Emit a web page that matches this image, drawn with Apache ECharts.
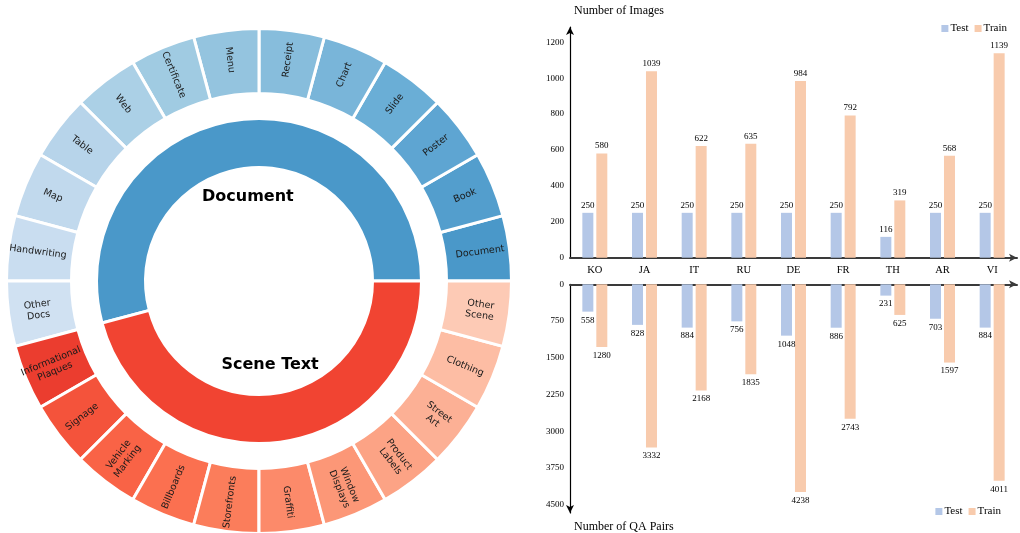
<!DOCTYPE html>
<html><head><meta charset="utf-8">
<script src="https://cdn.jsdelivr.net/npm/echarts@6/dist/echarts.min.js"></script>
<style>html,body{margin:0;padding:0;background:#fff}#c{width:1020px;height:533px}</style>
</head><body><div id="c"></div>
<script>
// ---- Sunburst (two rings) data ----
const groupNames = ['Document', 'Scene Text'];
const docSubcats = ['Document','Book','Poster','Slide','Chart','Receipt','Menu','Certificate','Web','Table','Map','Handwriting','Other\nDocs'];
const sceneSubcats = ['Informational\nPlaques','Signage','Vehicle\nMarking','Billboards','Storefronts','Graffiti','Window\nDisplays','Product\nLabels','Street\nArt','Clothing','Other\nScene'];
const docSubValues = [1,1,1,1,1,1,1,1,1,1,1,1,1];
const sceneSubValues = [1,1,1,1,1,1,1,1,1,1,1];
const groupColors = ['#4a98c9', '#f14432'];
const docColors = ['#4a98c9','#539ecd','#5ea5d2','#6aaed6','#79b5d9','#87bddc','#94c4df','#a0cbe2','#abd0e6','#b7d4ea','#c1d9ed','#c9ddf0','#d0e1f2'];
const sceneColors = ['#eb3d2f','#f4533b','#f96346','#fb7050','#fb7d5b','#fc8a6a','#fc9777','#fca385','#fcb095','#fdbda4','#fdcab5'];

// ---- Bar chart data ----
const languages = ['KO','JA','IT','RU','DE','FR','TH','AR','VI'];
const imagesTest = [250,250,250,250,250,250,116,250,250];
const imagesTrain = [580,1039,622,635,984,792,319,568,1139];
const qaTest = [558,828,884,756,1048,886,231,703,884];
const qaTrain = [1280,3332,2168,1835,4238,2743,625,1597,4011];
const imageTicks = [0,200,400,600,800,1000,1200];
const qaTicks = [0,750,1500,2250,3000,3750,4500];

const testColor = '#b4c7e7';
const trainColor = '#f8cbad';
const serif = 'Liberation Serif, Times New Roman, serif';
const sans = 'DejaVu Sans, sans-serif';

const groupValues = [docSubValues.reduce((a,b)=>a+b,0), sceneSubValues.reduce((a,b)=>a+b,0)];
const subNames = docSubcats.concat(sceneSubcats);
const subValues = docSubValues.concat(sceneSubValues);
const subColors = docColors.concat(sceneColors);

const pieCommon = {
  type: 'pie', center: [259, 281], startAngle: 0, clockwise: false,
  avoidLabelOverlap: false, silent: true, animation: false,
  labelLine: { show: false }, emphasis: { disabled: true }
};

const chart = echarts.init(document.getElementById('c'), null, { renderer: 'canvas' });
const imgInterval = imageTicks[1] - imageTicks[0];
const qaInterval = qaTicks[1] - qaTicks[0];
const imgMax = imageTicks[imageTicks.length-1];
const qaMax = qaTicks[qaTicks.length-1];

chart.setOption({
  animation: false,
  legend: [
    { data: ['Test','Train'], right: 8, top: 18, itemWidth: 7, itemHeight: 7, itemGap: 6,
      icon: 'rect', textStyle: { fontFamily: serif, fontSize: 11, color: '#000', padding: [0,0,0,-3] } },
    { data: ['Test','Train'], right: 14, top: 501, itemWidth: 7, itemHeight: 7, itemGap: 6,
      icon: 'rect', textStyle: { fontFamily: serif, fontSize: 11, color: '#000', padding: [0,0,0,-3] } }
  ],
  grid: [
    { left: 570, top: 27, width: 447, height: 230.7 },
    { left: 570, top: 284.3, width: 447, height: 231.7 }
  ],
  xAxis: [
    { type: 'category', gridIndex: 0, data: languages,
      axisLine: { lineStyle: { color: '#3a3a3a', width: 2 }, symbol: ['none','arrow'], symbolSize: [6, 8] },
      axisTick: { show: false },
      axisLabel: { fontFamily: serif, fontSize: 10.5, color: '#000', margin: 7 } },
    { type: 'category', gridIndex: 1, data: languages, position: 'top',
      axisLine: { lineStyle: { color: '#3a3a3a', width: 2 }, symbol: ['none','arrow'], symbolSize: [6, 8] },
      axisTick: { show: false }, axisLabel: { show: false } }
  ],
  yAxis: [
    { type: 'value', gridIndex: 0, min: 0, max: 1285, interval: imgInterval,
      name: 'Number of Images', nameLocation: 'end', nameGap: 10,
      nameTextStyle: { fontFamily: serif, fontSize: 12, color: '#000', align: 'left', padding: [0,0,0,4] },
      axisLine: { show: true, lineStyle: { color: '#000', width: 1.2 }, symbol: ['none','arrow'], symbolSize: [6, 8] },
      axisTick: { show: false }, splitLine: { show: false },
      axisLabel: { fontFamily: serif, fontSize: 9, color: '#000', margin: 6, showMaxLabel: false,
        formatter: v => (v <= imgMax ? String(v) : '') } },
    { type: 'value', gridIndex: 1, min: 0, max: 4667, interval: qaInterval, inverse: true,
      name: 'Number of QA Pairs', nameLocation: 'end', nameGap: 8,
      nameTextStyle: { fontFamily: serif, fontSize: 12, color: '#000', align: 'left', padding: [0,0,0,4] },
      axisLine: { show: true, lineStyle: { color: '#000', width: 1.2 }, symbol: ['arrow','none'], symbolSize: [6, 8] },
      axisTick: { show: false }, splitLine: { show: false },
      axisLabel: { fontFamily: serif, fontSize: 9, color: '#000', margin: 6, showMaxLabel: false,
        formatter: v => (v <= qaMax ? String(v) : '') } }
  ],
  series: [
    Object.assign({}, pieCommon, {
      radius: [113.5, 162.5],
      itemStyle: { borderColor: '#fff', borderWidth: 3 },
      label: { show: false },
      data: groupNames.map((n, i) => ({ name: n, value: groupValues[i], itemStyle: { color: groupColors[i] } }))
    }),
    Object.assign({}, pieCommon, {
      radius: [187.5, 252.5],
      itemStyle: { borderColor: '#fff', borderWidth: 3 },
      label: { show: true, position: 'inside', rotate: 'radial', fontFamily: sans, fontSize: 9.5,
        color: '#1a1a1a', lineHeight: 11, align: 'center', formatter: '{b}' },
      data: subNames.map((n, i) => ({ name: n, value: subValues[i], itemStyle: { color: subColors[i] } }))
    }),
    Object.assign({}, pieCommon, {
      radius: [50, 114],
      itemStyle: { color: 'rgba(0,0,0,0)' },
      label: { show: true, position: 'inside', fontFamily: sans, fontSize: 16, fontWeight: 'bold',
        color: '#000', formatter: '{b}' },
      data: groupNames.map((n, i) => ({ name: n, value: groupValues[i] }))
    }),
    { type: 'bar', name: 'Test', xAxisIndex: 0, yAxisIndex: 0, data: imagesTest,
      barWidth: 11, barGap: '27%', itemStyle: { color: testColor },
      label: { show: true, position: 'top', distance: 3, fontFamily: serif, fontSize: 9, color: '#000' } },
    { type: 'bar', name: 'Train', xAxisIndex: 0, yAxisIndex: 0, data: imagesTrain,
      barWidth: 11, barGap: '27%', itemStyle: { color: trainColor },
      label: { show: true, position: 'top', distance: 3, fontFamily: serif, fontSize: 9, color: '#000' } },
    { type: 'bar', name: 'Test', xAxisIndex: 1, yAxisIndex: 1, data: qaTest,
      barWidth: 11, barGap: '27%', itemStyle: { color: testColor },
      label: { show: true, position: 'bottom', distance: 4, fontFamily: serif, fontSize: 9, color: '#000' } },
    { type: 'bar', name: 'Train', xAxisIndex: 1, yAxisIndex: 1, data: qaTrain,
      barWidth: 11, barGap: '27%', itemStyle: { color: trainColor },
      label: { show: true, position: 'bottom', distance: 4, fontFamily: serif, fontSize: 9, color: '#000' } }
  ]
});
</script></body></html>
